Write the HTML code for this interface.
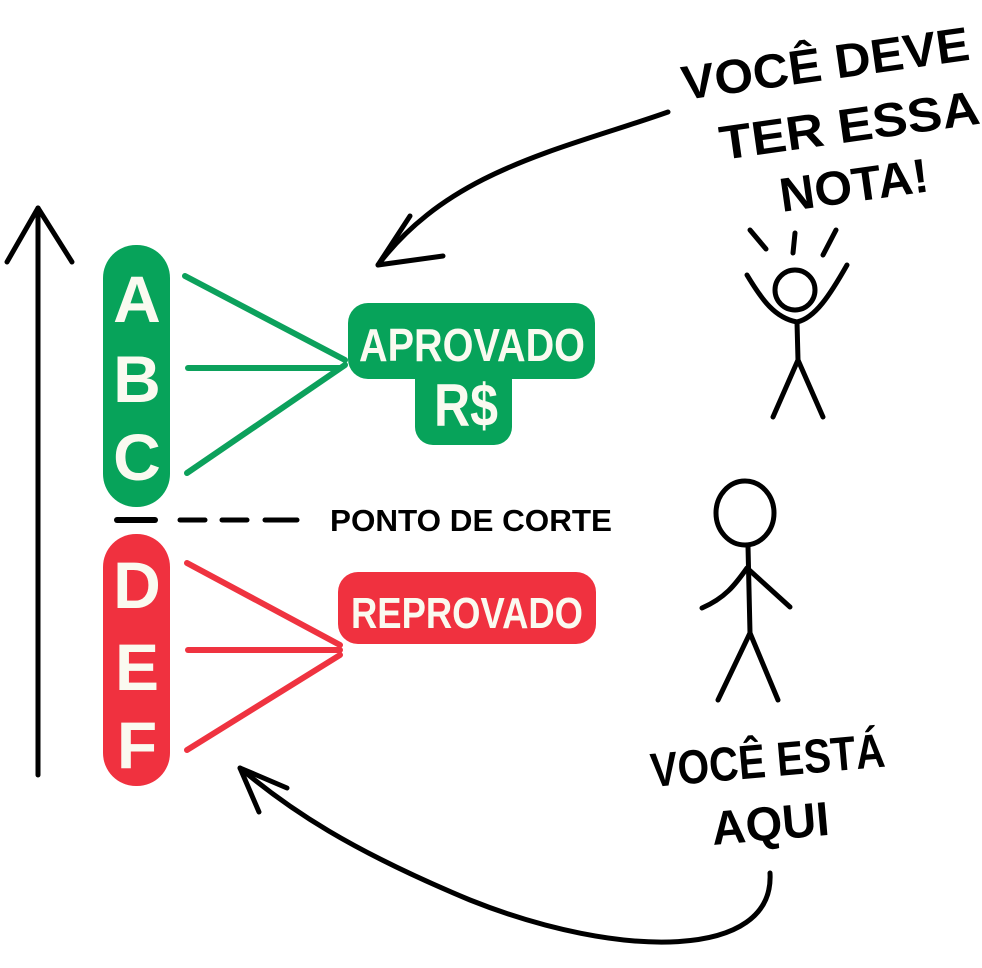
<!DOCTYPE html>
<html><head><meta charset="utf-8"><style>
html,body{margin:0;padding:0;background:#fff;}
svg{display:block}
text{font-family:"Liberation Sans",sans-serif;}
</style></head><body>
<svg width="982" height="968" viewBox="0 0 982 968" xmlns="http://www.w3.org/2000/svg">
<g stroke="#000" stroke-width="5" fill="none" stroke-linecap="round" stroke-linejoin="round">
<line x1="38" y1="775" x2="38" y2="208"/>
<polyline points="7,262 38,208 72,262"/>
<path d="M668,112 C560,150 450,170 378,265"/>
<polyline points="410,216 378,265 443,256"/>
<path d="M770,873 C775,960 620,960 470,900 C350,850 290,810 240,768"/>
<polyline points="259,812 240,768 287,788"/>
<line x1="117" y1="520" x2="155" y2="520" stroke-width="6"/>
<line x1="180" y1="520" x2="205" y2="520"/>
<line x1="222" y1="520" x2="247" y2="520"/>
<line x1="265" y1="520" x2="297" y2="520"/>
<!-- happy figure -->
<circle cx="795" cy="290" r="20"/>
<path d="M747,275 C762,300 775,318 797,322 C815,318 830,295 847,265"/>
<line x1="797" y1="322" x2="798" y2="360"/>
<polyline points="773,417 798,360 823,417"/>
<line x1="750" y1="230" x2="766" y2="249"/>
<line x1="795" y1="233" x2="793" y2="253"/>
<line x1="836" y1="230" x2="823" y2="255"/>
<!-- standing figure -->
<ellipse cx="745" cy="513" rx="29" ry="32"/>
<line x1="748" y1="546" x2="750" y2="633"/>
<path d="M702,608 C725,598 735,585 747,568 L790,607"/>
<polyline points="718,700 750,633 778,700"/>
</g>
<g stroke="#0ca15c" stroke-width="6" stroke-linecap="round">
<line x1="185" y1="276" x2="345" y2="360"/>
<line x1="188" y1="368" x2="340" y2="368"/>
<line x1="187" y1="473" x2="345" y2="365"/>
</g>
<g stroke="#ef3340" stroke-width="6" stroke-linecap="round">
<line x1="187" y1="563" x2="340" y2="645"/>
<line x1="188" y1="650" x2="340" y2="650"/>
<line x1="187" y1="750" x2="340" y2="655"/>
</g>
<rect x="103" y="245" width="67" height="262" rx="33" fill="#07a35a"/>
<rect x="103" y="534" width="67" height="252" rx="33" fill="#f0313f"/>
<rect x="348" y="303" width="247" height="76" rx="20" fill="#07a35a"/>
<rect x="415" y="360" width="97" height="85" rx="18" fill="#07a35a"/>
<rect x="338" y="572" width="258" height="72" rx="20" fill="#f0313f"/>
<g fill="#fafaf0" font-weight="bold" text-anchor="middle">
<text x="137" y="322" font-size="66">A</text>
<text x="137" y="402" font-size="66">B</text>
<text x="137" y="480" font-size="66">C</text>
<text x="137" y="608" font-size="66">D</text>
<text x="137" y="690" font-size="66">E</text>
<text x="137" y="768" font-size="66">F</text>
<text x="472" y="361" font-size="46" textLength="226" lengthAdjust="spacingAndGlyphs">APROVADO</text>
<text x="466" y="426" font-size="60" textLength="64" lengthAdjust="spacingAndGlyphs">R$</text>
<text x="467" y="628" font-size="44" textLength="232" lengthAdjust="spacingAndGlyphs">REPROVADO</text>
</g>
<text x="330" y="531" font-size="31" font-weight="bold" textLength="282" lengthAdjust="spacingAndGlyphs">PONTO DE CORTE</text>
<g font-size="48" fill="#000" font-weight="bold">
<text x="684" y="100" transform="rotate(-8 684 100)" textLength="290" lengthAdjust="spacingAndGlyphs">VOCÊ  DEVE</text>
<text x="722" y="160" transform="rotate(-8 722 160)" textLength="262" lengthAdjust="spacingAndGlyphs">TER  ESSA</text>
<text x="782" y="212" transform="rotate(-8 782 212)" textLength="150" lengthAdjust="spacingAndGlyphs">NOTA!</text>
<text x="652" y="787" transform="rotate(-5 652 787)" textLength="235" lengthAdjust="spacingAndGlyphs">VOCÊ ESTÁ</text>
<text x="713" y="845" transform="rotate(-5 713 845)" textLength="118" lengthAdjust="spacingAndGlyphs">AQUI</text>
</g>
</svg>
</body></html>
